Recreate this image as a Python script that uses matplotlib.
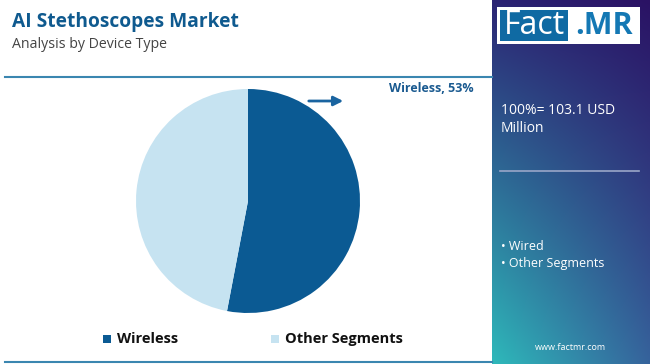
import numpy as np
import matplotlib
matplotlib.use('Agg')
import matplotlib.pyplot as plt
from matplotlib.patches import Rectangle

# data
segments = ['Wireless', 'Other Segments']
shares = [53, 47]
colors = ['#0b5a93', '#c6e3f1']
panel_items = ['Wired', 'Other Segments']
total_lines = ['100%= 103.1 USD', 'Million']

W, H = 650, 364
fig = plt.figure(figsize=(W / 100, H / 100), dpi=100)

bg = fig.add_axes([0, 0, 1, 1])
bg.set_xlim(0, W)
bg.set_ylim(H, 0)
bg.axis('off')

# right gradient panel
px0 = 492
ny, nx = 200, 100
yy, xx = np.mgrid[0:1:ny * 1j, 0:1:nx * 1j]
tl = np.array([0x2c, 0x24, 0x74]) / 255
tr = np.array([0x2a, 0x12, 0x64]) / 255
bl = np.array([0x2e, 0xb9, 0xba]) / 255
br = np.array([0x36, 0x63, 0x9c]) / 255
img = ((1 - yy)[..., None] * ((1 - xx)[..., None] * tl + xx[..., None] * tr)
       + yy[..., None] * ((1 - xx)[..., None] * bl + xx[..., None] * br))
bg.imshow(img, extent=[px0, W, H, 0], aspect='auto', zorder=0)
bg.set_xlim(0, W)
bg.set_ylim(H, 0)

# logo
bg.add_patch(Rectangle((497, 7), 143, 37, facecolor='white', zorder=2))
bg.add_patch(Rectangle((500, 10), 68, 31, facecolor='#0f6aa3', zorder=3))
bg.text(534, 26, 'Fact', color='white', fontsize=23, ha='center',
        va='center', family='Open Sans', zorder=4)
bg.text(604, 26, '.MR', color='#1478b4', fontsize=22, ha='center',
        va='center', family='Open Sans', fontweight='bold', zorder=4)

# lines
bg.plot([5, px0], [77, 77], color='#3a86b0', lw=1.5, zorder=1)
bg.plot([5, px0], [362, 362], color='#3a86b0', lw=1.5, zorder=1)
bg.plot([500, 639], [171, 171], color='#9aa6c8', lw=1.2, zorder=2)

# titles
bg.text(12, 22, 'AI Stethoscopes Market', color='#0f5a8f', fontsize=13.8,
        fontweight='bold', family='Open Sans', va='center')
bg.text(12, 45, 'Analysis by Device Type', color='#444444', fontsize=10.2,
        family='Open Sans', va='center')

# panel text
for i, s in enumerate(total_lines):
    bg.text(501, 110 + 19 * i, s, color='white', fontsize=10,
            family='Open Sans', va='center')
for i, s in enumerate(panel_items):
    bg.text(501, 247 + 17 * i, '• ' + s, color='white', fontsize=9,
            family='Open Sans', va='center')
bg.text(570, 348, 'www.factmr.com', color='white', fontsize=6.5,
        family='Open Sans', ha='center', va='center')

# annotation
bg.annotate('', xy=(346, 101), xytext=(306, 101),
            arrowprops=dict(arrowstyle='-|>', color='#1a64a0', lw=2,
                            mutation_scale=14))
bg.text(474, 89, f'{segments[0]}, {shares[0]}%', color='#1a5a90',
        fontsize=9, fontweight='bold', family='Open Sans', ha='right',
        va='center')

# legend
for lx, c, s in [(103, colors[0], segments[0]), (271, colors[1], segments[1])]:
    bg.add_patch(Rectangle((lx, 335), 8, 8, facecolor=c, zorder=2))
    bg.text(lx + 14, 339, s, color='#111111', fontsize=10.5, fontweight='bold',
            family='Open Sans', va='center')

# pie
cx, cy, r = 248, 201, 112
ax = fig.add_axes([(cx - r) / W, (H - cy - r) / H, 2 * r / W, 2 * r / H])
ax.pie(shares, colors=colors, startangle=90, counterclock=False,
       radius=1, wedgeprops=dict(linewidth=0))
ax.set_xlim(-1, 1)
ax.set_ylim(-1, 1)
ax.axis('off')

fig.savefig('out.png', dpi=100)
